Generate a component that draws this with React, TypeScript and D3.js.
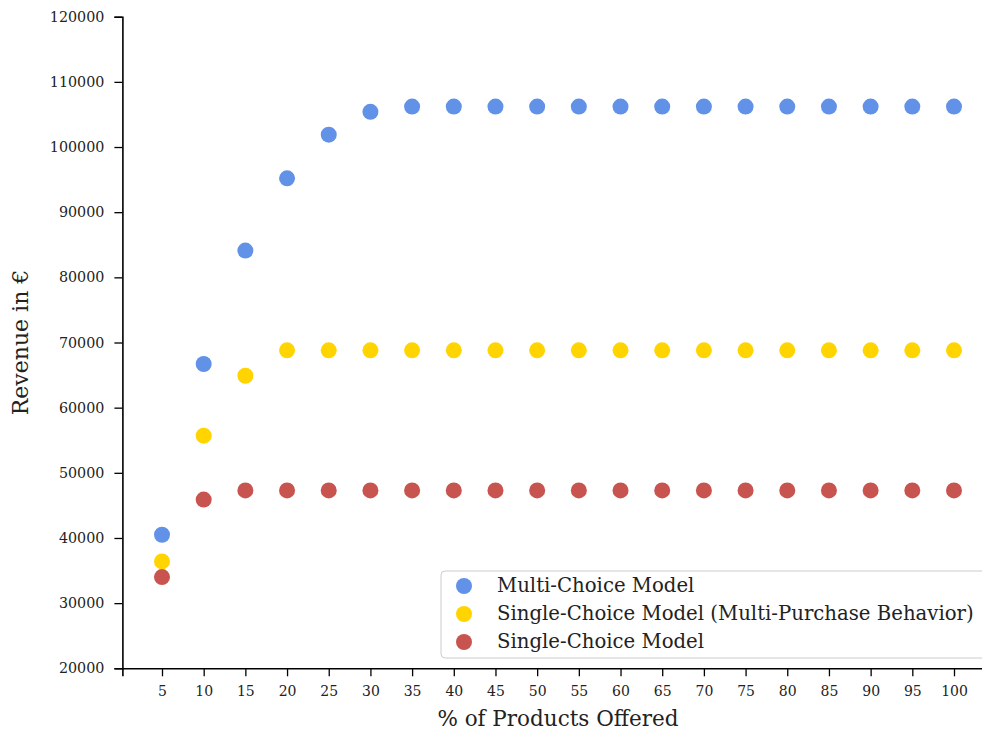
import * as d3 from "d3";
import { useEffect, useRef } from "react";

const pctOffered = [5, 10, 15, 20, 25, 30, 35, 40, 45, 50, 55, 60, 65, 70, 75, 80, 85, 90, 95, 100];

const multiChoice = [40500, 66700, 84100, 95200, 101900, 105400, 106200, 106200, 106200, 106200,
    106200, 106200, 106200, 106200, 106200, 106200, 106200, 106200, 106200, 106200];
const singleMultiPurchase = [36400, 55700, 64900, 68800, 68800, 68800, 68800, 68800, 68800, 68800,
    68800, 68800, 68800, 68800, 68800, 68800, 68800, 68800, 68800, 68800];
const singleChoice = [34000, 45900, 47300, 47300, 47300, 47300, 47300, 47300, 47300, 47300,
    47300, 47300, 47300, 47300, 47300, 47300, 47300, 47300, 47300, 47300];

const seriesNames = ["Multi-Choice Model", "Single-Choice Model (Multi-Purchase Behavior)", "Single-Choice Model"];
const seriesColors = ["#6192e8", "#ffd400", "#c85450"];
const yTicks = [20000, 30000, 40000, 50000, 60000, 70000, 80000, 90000, 100000, 110000, 120000];

export default function App() {
    const ref = useRef<SVGSVGElement>(null);

    useEffect(() => {
        const width = 982;
        const height = 731;
        const svg = d3.select(ref.current);
        svg.selectAll("*").remove();
        svg.attr("width", width).attr("height", height);

        const font = "'DejaVu Serif', serif";
        const x = d3.scaleLinear().domain([0.25, 104.75]).range([122.4, 993.6]);
        const y = d3.scaleLinear().domain([20000, 120000]).range([668.3, 16.7]);

        const series = [multiChoice, singleMultiPurchase, singleChoice];

        // y axis
        const yAxis = svg.append("g")
            .attr("transform", `translate(${x.range()[0]},0)`)
            .call(d3.axisLeft(y).tickValues(yTicks).tickSize(8).tickPadding(10).tickFormat(d3.format("d")));
        yAxis.select(".domain").attr("stroke", "#000").attr("stroke-width", 1.6);
        yAxis.selectAll(".tick line").attr("stroke", "#000").attr("stroke-width", 1.3);
        yAxis.selectAll("text")
            .attr("font-family", font).attr("font-size", 14.3).attr("fill", "#222");

        // x axis
        const xAxis = svg.append("g")
            .attr("transform", `translate(0,${y.range()[0]})`)
            .call(d3.axisBottom(x).tickValues(pctOffered).tickSize(8).tickPadding(10).tickFormat(d3.format("d")));
        xAxis.select(".domain").attr("stroke", "#000").attr("stroke-width", 1.6);
        xAxis.selectAll(".tick line").attr("stroke", "#000").attr("stroke-width", 1.3);
        xAxis.selectAll("text")
            .attr("font-family", font).attr("font-size", 14).attr("fill", "#222");

        // points
        series.forEach((vals, i) => {
            svg.append("g")
                .selectAll("circle")
                .data(vals)
                .enter()
                .append("circle")
                .attr("cx", (_, j) => x(pctOffered[j]))
                .attr("cy", d => y(d))
                .attr("r", 8)
                .attr("fill", seriesColors[i]);
        });

        // axis labels
        svg.append("text")
            .attr("x", (x.range()[0] + x.range()[1]) / 2)
            .attr("y", 726)
            .attr("text-anchor", "middle")
            .attr("font-family", font).attr("font-size", 21.5).attr("fill", "#222")
            .text("% of Products Offered");

        svg.append("text")
            .attr("transform", `translate(28,${(y.range()[0] + y.range()[1]) / 2}) rotate(-90)`)
            .attr("text-anchor", "middle")
            .attr("font-family", font).attr("font-size", 22).attr("fill", "#222")
            .text("Revenue in €");

        // legend
        const legend = svg.append("g").attr("transform", "translate(441,571)");
        legend.append("rect")
            .attr("width", 560).attr("height", 87).attr("rx", 4)
            .attr("fill", "white").attr("fill-opacity", 0.8)
            .attr("stroke", "#cccccc").attr("stroke-width", 1);
        seriesNames.forEach((name, i) => {
            legend.append("circle")
                .attr("cx", 23).attr("cy", 15 + i * 28)
                .attr("r", 8).attr("fill", seriesColors[i]);
            legend.append("text")
                .attr("x", 56).attr("y", 21 + i * 28)
                .attr("font-family", font).attr("font-size", 19.7).attr("fill", "#222")
                .text(name);
        });
    }, []);

    return (
        <svg ref={ref} style={{ position: "absolute", left: 0, top: 0, display: "block" }}></svg>
    );
}
